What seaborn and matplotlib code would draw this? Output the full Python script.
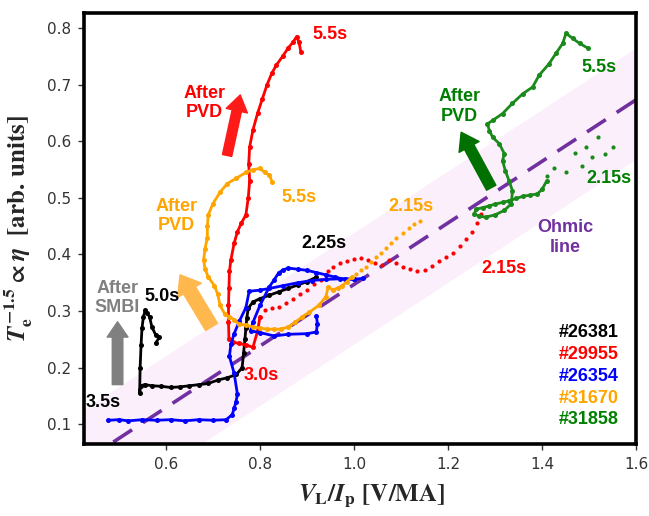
import numpy as np
import pandas as pd
import matplotlib
matplotlib.use("Agg")
import matplotlib.pyplot as plt
import seaborn as sns

# -------------------------------
# DATA
# -------------------------------
# shot #26381 (black), from 2.25s down to the SMBI spike
black_x = [0.92, 0.90, 0.88, 0.86, 0.84, 0.82, 0.80, 0.785, 0.775, 0.772, 0.77, 0.768, 0.765, 0.762,
           0.75, 0.73, 0.71, 0.69, 0.67, 0.65, 0.63, 0.61, 0.59, 0.57, 0.555, 0.546,
           0.544, 0.545, 0.547, 0.549, 0.552, 0.556, 0.560, 0.565, 0.570, 0.578, 0.586, 0.578]
black_y = [0.360, 0.352, 0.346, 0.340, 0.334, 0.328, 0.322, 0.316, 0.305, 0.288, 0.270, 0.250, 0.225, 0.200,
           0.188, 0.182, 0.178, 0.172, 0.170, 0.168, 0.166, 0.165, 0.167, 0.168, 0.170, 0.168,
           0.155, 0.200, 0.240, 0.270, 0.290, 0.302, 0.296, 0.290, 0.272, 0.258, 0.254, 0.243]

# shot #29955 (red): sparse tail from 2.15s, then dense part up to 5.5s
red_tail_x = [1.27, 1.262, 1.25, 1.238, 1.225, 1.21, 1.195, 1.18, 1.165, 1.15, 1.135, 1.12, 1.105,
              1.09, 1.075, 1.06, 1.045, 1.03, 1.015, 1.0, 0.985, 0.97, 0.955, 0.945, 0.93, 0.915,
              0.90, 0.885, 0.87, 0.855, 0.84, 0.825, 0.81]
red_tail_y = [0.472, 0.455, 0.440, 0.428, 0.415, 0.402, 0.395, 0.388, 0.380, 0.372, 0.370, 0.374, 0.378,
              0.385, 0.390, 0.382, 0.385, 0.390, 0.393, 0.392, 0.388, 0.385, 0.378, 0.370, 0.355, 0.347,
              0.338, 0.330, 0.322, 0.314, 0.308, 0.305, 0.302]
red_x = [0.80, 0.795, 0.785, 0.77, 0.755, 0.742, 0.734, 0.733, 0.733, 0.734, 0.735, 0.738, 0.745, 0.752,
         0.760, 0.770, 0.775, 0.778, 0.776, 0.778, 0.785, 0.795, 0.805, 0.815, 0.825, 0.835, 0.848,
         0.860, 0.870, 0.878, 0.883, 0.887]
red_y = [0.290, 0.265, 0.236, 0.240, 0.243, 0.245, 0.250, 0.280, 0.310, 0.340, 0.370, 0.390, 0.420, 0.440,
         0.455, 0.470, 0.500, 0.530, 0.560, 0.590, 0.620, 0.650, 0.675, 0.700, 0.720, 0.735, 0.750,
         0.765, 0.775, 0.785, 0.775, 0.758]

# shot #26354 (blue)
blue_a_x = [1.02, 1.00, 0.98, 0.96, 0.94, 0.92, 0.90, 0.88, 0.86, 0.85, 0.84, 0.83, 0.82, 0.80, 0.785,
            0.78, 0.80, 0.83, 0.86, 0.90, 0.92, 0.922, 0.92]
blue_a_y = [0.358, 0.356, 0.356, 0.360, 0.364, 0.368, 0.372, 0.374, 0.376, 0.373, 0.368, 0.355, 0.343,
            0.310, 0.280, 0.265, 0.262, 0.256, 0.259, 0.260, 0.263, 0.278, 0.292]
blue_b_x = [1.00, 0.97, 0.94, 0.91, 0.88, 0.85, 0.82, 0.80, 0.777, 0.77, 0.756, 0.745, 0.738, 0.735,
            0.745, 0.752, 0.749, 0.745, 0.741, 0.728, 0.70, 0.67, 0.64, 0.61, 0.58, 0.55, 0.52, 0.50, 0.477]
blue_b_y = [0.357, 0.357, 0.356, 0.354, 0.350, 0.345, 0.340, 0.337, 0.335, 0.306, 0.282, 0.260, 0.241,
            0.220, 0.190, 0.153, 0.140, 0.128, 0.117, 0.108, 0.107, 0.108, 0.106, 0.108, 0.107, 0.108,
            0.106, 0.108, 0.107]

# shot #31670 (orange): sparse tail from 2.15s, then dense part up to 5.5s
orange_tail_x = [1.14, 1.128, 1.118, 1.105, 1.09, 1.078, 1.068, 1.057, 1.047, 1.037, 1.026, 1.015, 1.004]
orange_tail_y = [0.460, 0.453, 0.447, 0.438, 0.430, 0.420, 0.412, 0.403, 0.395, 0.386, 0.377, 0.372, 0.366]
orange_x = [0.995, 0.985, 0.975, 0.965, 0.955, 0.945, 0.94, 0.925, 0.905, 0.89, 0.875, 0.86, 0.845,
            0.83, 0.815, 0.80, 0.785, 0.77, 0.755, 0.745, 0.735, 0.725, 0.715, 0.71, 0.703, 0.69,
            0.683, 0.68, 0.683, 0.688, 0.688, 0.69, 0.70, 0.715, 0.73, 0.75, 0.77, 0.785, 0.80,
            0.81, 0.82, 0.826]
orange_y = [0.360, 0.352, 0.345, 0.340, 0.338, 0.342, 0.325, 0.310, 0.298, 0.290, 0.280, 0.272, 0.268,
            0.268, 0.268, 0.270, 0.272, 0.275, 0.277, 0.285, 0.290, 0.295, 0.310, 0.330, 0.345, 0.360,
            0.375, 0.390, 0.410, 0.430, 0.450, 0.470, 0.490, 0.510, 0.525, 0.535, 0.545, 0.550, 0.552,
            0.545, 0.540, 0.528]

# shot #31858 (green): sparse start at 2.15s, dense part up to 5.5s
green_tail_x = [1.55, 1.535, 1.52, 1.507, 1.494, 1.486, 1.47, 1.45, 1.426, 1.41]
green_tail_y = [0.590, 0.578, 0.607, 0.572, 0.590, 0.556, 0.580, 0.546, 0.552, 0.538]
green_x = [1.41, 1.40, 1.39, 1.375, 1.36, 1.345, 1.33, 1.316, 1.30, 1.288, 1.275, 1.26, 1.256, 1.265,
           1.28, 1.30, 1.32, 1.335, 1.337, 1.33, 1.322, 1.316, 1.32, 1.309, 1.295, 1.288, 1.284,
           1.295, 1.316, 1.337, 1.359, 1.38, 1.394, 1.415, 1.43, 1.444, 1.451, 1.465, 1.48, 1.497]
green_y = [0.530, 0.515, 0.507, 0.505, 0.503, 0.499, 0.495, 0.492, 0.489, 0.486, 0.483, 0.480, 0.472,
           0.468, 0.466, 0.470, 0.478, 0.490, 0.513, 0.530, 0.548, 0.566, 0.578, 0.596, 0.607, 0.619,
           0.631, 0.637, 0.649, 0.667, 0.684, 0.696, 0.717, 0.737, 0.756, 0.773, 0.791, 0.782, 0.773,
           0.765]

# Ohmic scaling line and its band
ohmic_slope = 0.544
ohmic_offset = -0.197
band_up = 0.092
band_down = 0.105

shot_names = ["#26381", "#29955", "#26354", "#31670", "#31858"]
shot_colors = ["black", "#ff0000", "#0000ff", "#ffa500", "#008000"]

# -------------------------------
# STYLE
# -------------------------------
sns.set_style("ticks")
plt.rcParams["font.family"] = ["Liberation Sans", "DejaVu Sans"]
plt.rcParams["mathtext.fontset"] = "custom"
plt.rcParams["mathtext.rm"] = "STIXGeneral:bold"
plt.rcParams["mathtext.it"] = "STIXGeneral:italic:bold"
plt.rcParams["mathtext.bf"] = "STIXGeneral:bold"

fig = plt.figure(figsize=(6.49, 5.16), dpi=100)
ax = fig.add_axes([0.129, 0.1395, 0.851, 0.8355])
xlim = (0.425, 1.6)
ylim = (0.065, 0.827)

# band + ohmic line
bx = np.array(xlim)
by = ohmic_slope * bx + ohmic_offset
ax.fill_between(bx, by - band_down, by + band_up, color="#fbeffb", lw=0, zorder=0)
sns.lineplot(x=bx, y=by, color="#7030a0", lw=2.6, ax=ax, zorder=1,
             linestyle=(0, (6.2, 3.6)))


def draw_path(x, y, color):
    df = pd.DataFrame({"x": x, "y": y})
    sns.lineplot(data=df, x="x", y="y", sort=False, estimator=None, color=color,
                 lw=2.0, marker="o", markersize=3.6, markeredgewidth=0, ax=ax, zorder=3)


def draw_dots(x, y, color):
    sns.scatterplot(x=x, y=y, color=color, s=9, linewidth=0, ax=ax, zorder=3)


draw_path(black_x, black_y, "black")
draw_dots(red_tail_x, red_tail_y, "#ff0000")
draw_path(red_x, red_y, "#ff0000")
draw_path(blue_a_x, blue_a_y, "#0000ff")
draw_path(blue_b_x, blue_b_y, "#0000ff")
draw_dots(orange_tail_x, orange_tail_y, "#ffa500")
draw_path(orange_x, orange_y, "#ffa500")
draw_dots(green_tail_x, green_tail_y, "#1a8a1a")
draw_path(green_x, green_y, "#1a8a1a")


# arrows
def arrow(tail, tip, color, tw, hw, hl):
    ax.annotate("", xy=tip, xytext=tail,
                arrowprops=dict(arrowstyle=f"simple,head_length={hl},head_width={hw},tail_width={tw}",
                                color=color, mutation_scale=20, shrinkA=0, shrinkB=0), zorder=4)


arrow((0.497, 0.170), (0.497, 0.281), "#808080", 0.38, 0.75, 0.55)
arrow((0.697, 0.272), (0.630, 0.364), "#ffb84d", 0.5, 1.0, 0.65)
arrow((0.730, 0.575), (0.758, 0.682), "#ff1a1a", 0.34, 0.78, 0.58)
arrow((1.292, 0.518), (1.228, 0.616), "#007000", 0.38, 0.82, 0.6)

# annotations
txt = dict(fontsize=13, fontweight="bold", ha="center", va="center", zorder=5)
ax.text(0.497, 0.323, "After\nSMBI", color="#808080", **txt)
ax.text(0.592, 0.325, "5.0s", color="black", **txt)
ax.text(0.466, 0.139, "3.5s", color="black", **txt)
ax.text(0.622, 0.468, "After\nPVD", color="#ffa500", **txt)
ax.text(0.682, 0.668, "After\nPVD", color="#ff0000", **txt)
ax.text(0.948, 0.788, "5.5s", color="#ff0000", **txt)
ax.text(0.884, 0.500, "5.5s", color="#ffa500", **txt)
ax.text(0.937, 0.420, "2.25s", color="black", **txt)
ax.text(1.122, 0.484, "2.15s", color="#ffa500", **txt)
ax.text(1.320, 0.375, "2.15s", color="#ff0000", **txt)
ax.text(0.803, 0.186, "3.0s", color="#ff0000", **txt)
ax.text(1.224, 0.662, "After\nPVD", color="#008000", **txt)
ax.text(1.522, 0.730, "5.5s", color="#008000", **txt)
ax.text(1.543, 0.535, "2.15s", color="#008000", **txt)
ax.text(1.450, 0.430, "Ohmic\nline", color="#7030a0", **txt)

legend_y = [0.262, 0.224, 0.184, 0.145, 0.108]
for name, col, yy in zip(shot_names, shot_colors, legend_y):
    ax.text(1.564, yy, name, color=col, fontsize=13, fontweight="bold", ha="right", va="center", zorder=5)

# axes
ax.set_xlim(xlim)
ax.set_ylim(ylim)
ax.set_xticks([0.6, 0.8, 1.0, 1.2, 1.4, 1.6])
ax.set_yticks([0.1, 0.2, 0.3, 0.4, 0.5, 0.6, 0.7, 0.8])
ax.set_xticklabels(["0.6", "0.8", "1.0", "1.2", "1.4", "1.6"])
ax.set_yticklabels(["0.1", "0.2", "0.3", "0.4", "0.5", "0.6", "0.7", "0.8"])
for lab in ax.get_xticklabels() + ax.get_yticklabels():
    lab.set_fontfamily("DejaVu Sans")
    lab.set_fontsize(11)
    lab.set_color("#333333")
ax.tick_params(length=4, width=1, color="#333333", pad=5)
for sp in ax.spines.values():
    sp.set_linewidth(2.6)
    sp.set_color("black")

ax.set_xlabel(r"$V_{\mathrm{L}}/I_{\mathrm{p}}\ [\mathrm{V/MA}]$", fontsize=18)
ax.set_ylabel(r"$T_{\mathrm{e}}^{-1.5}\propto\eta\ \ [\mathrm{arb.\,units}]$", fontsize=18)
ax.xaxis.set_label_coords(0.522, -0.09)
ax.yaxis.set_label_coords(-0.088, 0.5)

fig.savefig("out.png", dpi=100)
